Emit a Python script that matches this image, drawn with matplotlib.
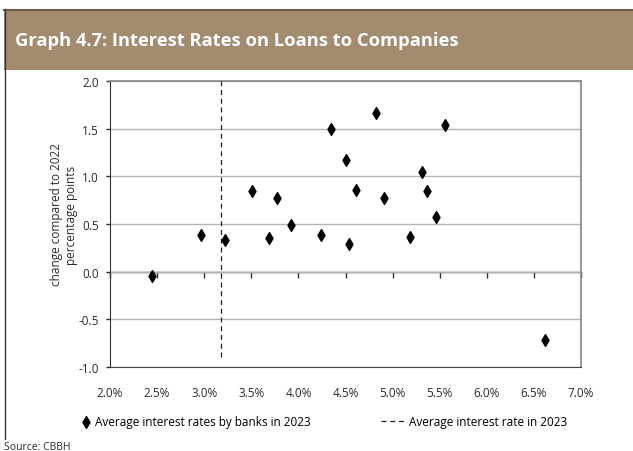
import matplotlib
matplotlib.use('Agg')
import matplotlib.pyplot as plt
from matplotlib.lines import Line2D
from matplotlib.patches import Rectangle
from matplotlib.ticker import FuncFormatter, MultipleLocator

plt.rcParams['font.family'] = ['Open Sans', 'DejaVu Sans']

# average interest rate of each bank in 2023 (%) and change vs 2022 (pp)
bank_rate = [2.45, 2.97, 3.22, 3.51, 3.69, 3.77, 3.92, 4.24, 4.35, 4.51,
             4.54, 4.61, 4.82, 4.91, 5.18, 5.31, 5.37, 5.46, 5.56, 6.62]
bank_change = [-0.05, 0.38, 0.33, 0.85, 0.35, 0.77, 0.49, 0.38, 1.50, 1.17,
               0.29, 0.86, 1.66, 0.77, 0.36, 1.05, 0.85, 0.57, 1.54, -0.72]

# vertical line: average interest rate in 2023
avg_rate = [3.18, 3.18]
avg_line_y = [-0.9, 2.0]

x_ticks = [2.0, 2.5, 3.0, 3.5, 4.0, 4.5, 5.0, 5.5, 6.0, 6.5, 7.0]

title = 'Graph 4.7: Interest Rates on Loans to Companies'
ylabel = 'change compared to 2022\npercentage points'
leg_banks = 'Average interest rates by banks in 2023'
leg_avg = 'Average interest rate in 2023'

fig = plt.figure(figsize=(6.33, 4.52), dpi=100)

# title band
fig.add_artist(Rectangle((4 / 633, 1 - 71 / 452), 1, 60 / 452,
                         transform=fig.transFigure, color='#A38B70', lw=0))
fig.add_artist(Line2D([4 / 633, 1], [1 - 10.5 / 452] * 2,
                      transform=fig.transFigure, color='#6B5E4E', lw=1.5))
fig.add_artist(Line2D([4.5 / 633] * 2, [1 - 10 / 452, 1 - 440 / 452],
                      transform=fig.transFigure, color='#333333', lw=1))
fig.text(15 / 633, 1 - 41 / 452, title, color='white', fontsize=13.2,
         fontweight='bold', va='center', ha='left')

ax = fig.add_axes([110 / 633, 1 - 368 / 452, 471 / 633, 286 / 452])

sc = ax.scatter(bank_rate, bank_change, marker='d', s=36, color='black',
                zorder=4)
ln, = ax.plot(avg_rate, avg_line_y, color='#222222', lw=0.9,
              ls=(0, (4, 3)), zorder=3)

ax.set_xlim(2, 7)
ax.set_ylim(-1, 2)
ax.yaxis.set_major_locator(MultipleLocator(0.5))
ax.yaxis.set_major_formatter(FuncFormatter(lambda v, p: f'{v:.1f}'))
ax.set_xticks(x_ticks)
ax.xaxis.set_major_formatter(FuncFormatter(lambda v, p: f'{v:.1f}%'))
ax.tick_params(axis='x', length=0, pad=14, labelsize=8.5, colors='#2a2a2a')
ax.tick_params(axis='y', length=3, width=1, direction='out', pad=5,
               labelsize=8.5, colors='#2a2a2a')
ax.grid(axis='y', color='#B4B4B4', lw=1)
ax.set_axisbelow(True)

for side in ['top', 'right']:
    ax.spines[side].set_color('#8C8C8C')
    ax.spines[side].set_linewidth(1.3)
ax.spines['left'].set_color('#333333')
ax.spines['bottom'].set_color('#444444')

# x axis crossing at zero with downward ticks
sec = ax.secondary_xaxis(0, transform=ax.transData)
sec.set_xticks(x_ticks)
sec.tick_params(axis='x', length=4, width=1, direction='out',
                labelbottom=False, color='#333333')
sec.spines['bottom'].set_color('#333333')
sec.spines['bottom'].set_linewidth(1)

fig.text(64 / 633, 1 - 215 / 452, ylabel, rotation=90, ha='center',
         va='center', multialignment='center', fontsize=8.5, color='#2a2a2a')

# legend entries, placed separately like the original
leg1 = fig.legend([sc], [leg_banks], loc='center left',
                  bbox_to_anchor=(80 / 633, 1 - 423 / 452), frameon=False,
                  fontsize=8.5, handlelength=1.0, handletextpad=0.25,
                  borderpad=0, borderaxespad=0, scatterpoints=1)
fig.legend([ln], [leg_avg], loc='center left',
           bbox_to_anchor=(381 / 633, 1 - 423 / 452), frameon=False,
           fontsize=8.5, handlelength=1.95, handletextpad=0.42,
           borderpad=0, borderaxespad=0)

fig.text(4 / 633, 1 - 448 / 452, 'Source: CBBH', fontsize=7.5,
         color='#2a2a2a', ha='left', va='center')

fig.savefig('out.png', dpi=100)
